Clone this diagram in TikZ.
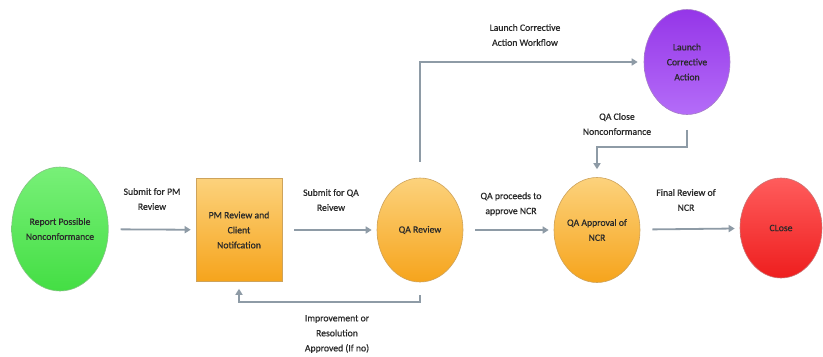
\documentclass[tikz,border=0pt]{standalone}
\usepackage{fontspec}
\setmainfont{Carlito}
\newfontfamily\diagfont{Carlito}[FakeBold=0.6]
\usetikzlibrary{shapes.geometric,arrows.meta}

\definecolor{linkgray}{HTML}{8E9BA6}
\definecolor{txtgray}{HTML}{2A2A2A}
\definecolor{greenTop}{HTML}{78F078}
\definecolor{greenBot}{HTML}{44DE44}
\definecolor{orangeTop}{HTML}{FCD27C}
\definecolor{orangeBot}{HTML}{F6A41C}
\definecolor{purpleTop}{HTML}{9536E8}
\definecolor{purpleBot}{HTML}{B46CF8}
\definecolor{redTop}{HTML}{FF5C5C}
\definecolor{redBot}{HTML}{EE1E1E}

\begin{document}
\begin{tikzpicture}[x=1pt,y=-1pt,
  every node/.style={font=\diagfont\fontsize{9.7}{15}\selectfont, text=txtgray, align=center},
  oval/.style={ellipse, inner sep=0pt, line width=0.6pt},
  greenoval/.style={oval, draw=greenBot!70!black!60, top color=greenTop, bottom color=greenBot},
  orangeoval/.style={oval, draw=orangeBot!75!black!70, top color=orangeTop, bottom color=orangeBot},
  purpleoval/.style={oval, draw=purpleTop!70!black!60, top color=purpleTop, bottom color=purpleBot},
  redoval/.style={oval, draw=redBot!70!black!60, top color=redTop, bottom color=redBot},
  taskbox/.style={rectangle, inner sep=0pt, line width=0.6pt, draw=orangeBot!75!black!70,
    top color=orangeTop, bottom color=orangeBot},
  conn/.style={draw=linkgray, line width=1.8pt, shorten <=12pt, shorten >=5pt,
    -{Triangle[length=6pt,width=7pt]}},
  lbl/.style={text=txtgray}
]
  \path[fill=white] (0,0) rectangle (823,355);

  % process steps
  \node[greenoval, minimum width=94pt, minimum height=124pt] (rep) at (60,229)
    {Report Possible\\Nonconformance};
  \node[taskbox, minimum width=86pt, minimum height=103pt] (pm) at (239,230)
    {PM Review and\\Client\\Notifcation};
  \node[orangeoval, minimum width=86pt, minimum height=104pt] (qa) at (420,230)
    {QA Review};
  \node[orangeoval, minimum width=86pt, minimum height=105pt] (qaa) at (597,230)
    {QA Approval of\\NCR};
  \node[redoval, minimum width=82pt, minimum height=100pt] (cls) at (781,228)
    {CLose};
  \node[purpleoval, minimum width=86pt, minimum height=105pt] (lca) at (687,62)
    {Launch\\Corrective\\Action};

  % main flow
  \draw[conn] (rep) -- (pm);
  \draw[conn] (pm) -- (qa);
  \draw[conn] (qa) -- (qaa);
  \draw[conn] (qaa) -- (cls);

  % corrective action branch
  \draw[conn, shorten <=16pt, shorten >=6pt] (qa.north) |- (lca.west);
  \draw[conn, shorten <=0pt, shorten >=8pt] ([yshift=-15pt]lca.south) -- ++(0,17) -| (qaa.north);

  % return loop
  \draw[conn, shorten <=13pt, shorten >=7pt] (qa.south) -- ++(0,20) -| (pm.south);

  % connector labels
  \node[lbl] (l1) at (152,199) {Submit for PM\\Review};
  \node[lbl] (l2) at (331,200) {Submit for QA\\Reivew};
  \node[lbl] (l3) at (511,204) {QA proceeds to\\approve NCR};
  \node[lbl] (l4) at (686,200) {Final Review of\\NCR};
  \node[lbl] (l5) at (525,35) {Launch Corrective\\Action Workflow};
  \node[lbl] (l6) at (617,124) {QA Close\\Nonconformance};
  \node[lbl] (l7) at (337,334) {Improvement or\\Resolution\\Approved (If no)};
\end{tikzpicture}
\end{document}
